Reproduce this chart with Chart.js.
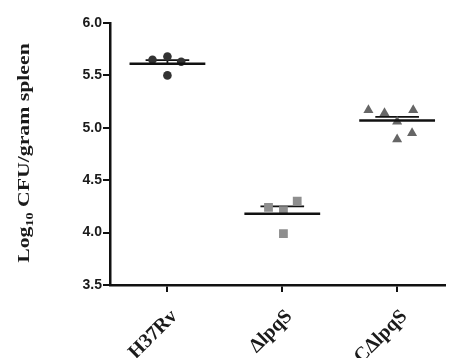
<!DOCTYPE html>
<html>
<head>
<meta charset="utf-8">
<script src="https://cdn.jsdelivr.net/npm/chart.js@4"></script>
<style>
html,body{margin:0;padding:0;background:#fff;overflow:hidden;}
canvas{display:block;}
</style>
</head>
<body>
<canvas id="c" width="451" height="358"></canvas>
<script>
// ---- data ----
const categories = ['H37Rv', '\u0394lpqS', 'C\u0394lpqS'];
const yTickValues = [3.5, 4.0, 4.5, 5.0, 5.5, 6.0];

const h37rvValues = [5.65, 5.68, 5.63, 5.50];
const h37rvJitter = [-0.13, 0.0, 0.12, 0.0];

const lpqsValues = [4.24, 4.21, 4.30, 3.99];
const lpqsJitter = [-0.12, 0.01, 0.13, 0.01];

const clpqsValues = [5.17, 5.14, 5.17, 5.06, 4.89, 4.95];
const clpqsJitter = [-0.25, -0.11, 0.14, 0.0, 0.0, 0.13];

const groupMeans = [5.61, 4.18, 5.07];
const groupUpperSEM = [5.645, 4.25, 5.105];

const yTitleMain = 'Log';
const yTitleSub = '10';
const yTitleRest = ' CFU/gram spleen';

// ---- build datasets ----
function pts(idx, vals, jit) {
  return vals.map((v, i) => ({x: idx + jit[i], y: v}));
}
const meanHalf = 0.33, capHalf = 0.19;
const lineDatasets = [];
groupMeans.forEach((m, i) => {
  lineDatasets.push({
    type: 'line', data: [{x: i - meanHalf, y: m}, {x: i + meanHalf, y: m}],
    borderColor: '#111', borderWidth: 2.5, pointRadius: 0, order: 0
  });
  lineDatasets.push({
    type: 'line', data: [{x: i - capHalf, y: groupUpperSEM[i]}, {x: i + capHalf, y: groupUpperSEM[i]}],
    borderColor: '#111', borderWidth: 1.8, pointRadius: 0, order: 2
  });
  lineDatasets.push({
    type: 'line', data: [{x: i, y: m}, {x: i, y: groupUpperSEM[i]}],
    borderColor: '#111', borderWidth: 1.8, pointRadius: 0, order: 2
  });
});

const yTitlePlugin = {
  id: 'yTitle',
  afterDraw(chart) {
    const ctx = chart.ctx;
    ctx.save();
    ctx.translate(29, 153);
    ctx.rotate(-Math.PI / 2);
    ctx.scale(1.28, 1);
    ctx.fillStyle = '#1a1a1a';
    ctx.textBaseline = 'alphabetic';
    ctx.textAlign = 'left';
    const fMain = 'bold 17px "Liberation Serif", "Times New Roman", serif';
    const fSub = 'bold 11px "Liberation Serif", "Times New Roman", serif';
    ctx.font = fMain;
    const w1 = ctx.measureText(yTitleMain).width;
    const w3 = ctx.measureText(yTitleRest).width;
    ctx.font = fSub;
    const w2 = ctx.measureText(yTitleSub).width;
    let x = -(w1 + w2 + w3) / 2;
    ctx.font = fMain;
    ctx.fillText(yTitleMain, x, 0);
    x += w1;
    ctx.font = fSub;
    ctx.fillText(yTitleSub, x, 4);
    x += w2;
    ctx.font = fMain;
    ctx.fillText(yTitleRest, x, 0);
    ctx.restore();
  }
};

new Chart(document.getElementById('c'), {
  type: 'scatter',
  data: {
    datasets: [
      {data: pts(0, h37rvValues, h37rvJitter), pointStyle: 'circle', pointRadius: 4.3,
       backgroundColor: '#333', borderColor: '#333', borderWidth: 0, order: 1},
      {data: pts(1, lpqsValues, lpqsJitter), pointStyle: 'rect', pointRadius: 6.2,
       backgroundColor: '#8e8e8e', borderColor: '#8e8e8e', borderWidth: 0, order: 1},
      {data: pts(2, clpqsValues, clpqsJitter), pointStyle: 'triangle', pointRadius: 5.8,
       backgroundColor: '#666', borderColor: '#666', borderWidth: 0, order: 1},
      ...lineDatasets
    ]
  },
  options: {
    responsive: false,
    animation: false,
    events: [],
    layout: {padding: {top: 23, right: 0, left: 0, bottom: 0}},
    plugins: {legend: {display: false}, tooltip: {enabled: false}},
    scales: {
      x: {
        type: 'linear', min: -0.5, max: 2.415,
        afterBuildTicks(s) { s.ticks = [0, 1, 2].map(v => ({value: v})); },
        afterFit(s) { s.height = 73; },
        ticks: {
          autoSkip: false, minRotation: 45, maxRotation: 45, padding: 13, labelOffset: 7,
          color: '#1a1a1a',
          font: {family: '"Liberation Serif", "Times New Roman", serif', weight: 'bold', size: 20},
          callback: v => categories[v]
        },
        grid: {display: true, drawOnChartArea: false, drawTicks: true, tickLength: 7, color: '#111', lineWidth: 2},
        border: {display: true, color: '#111', width: 2.5}
      },
      y: {
        type: 'linear', min: 3.5, max: 6.0,
        afterBuildTicks(s) { s.ticks = yTickValues.map(v => ({value: v})); },
        afterFit(s) { s.width = 110; },
        ticks: {
          padding: 1, color: '#1a1a1a',
          font: {family: '"Liberation Sans", Arial, sans-serif', weight: 'bold', size: 14},
          callback: v => v.toFixed(1)
        },
        grid: {display: true, drawOnChartArea: false, drawTicks: true, tickLength: 7, color: '#111', lineWidth: 2},
        border: {display: true, color: '#111', width: 2.5}
      }
    }
  },
  plugins: [yTitlePlugin]
});
</script>
</body>
</html>
